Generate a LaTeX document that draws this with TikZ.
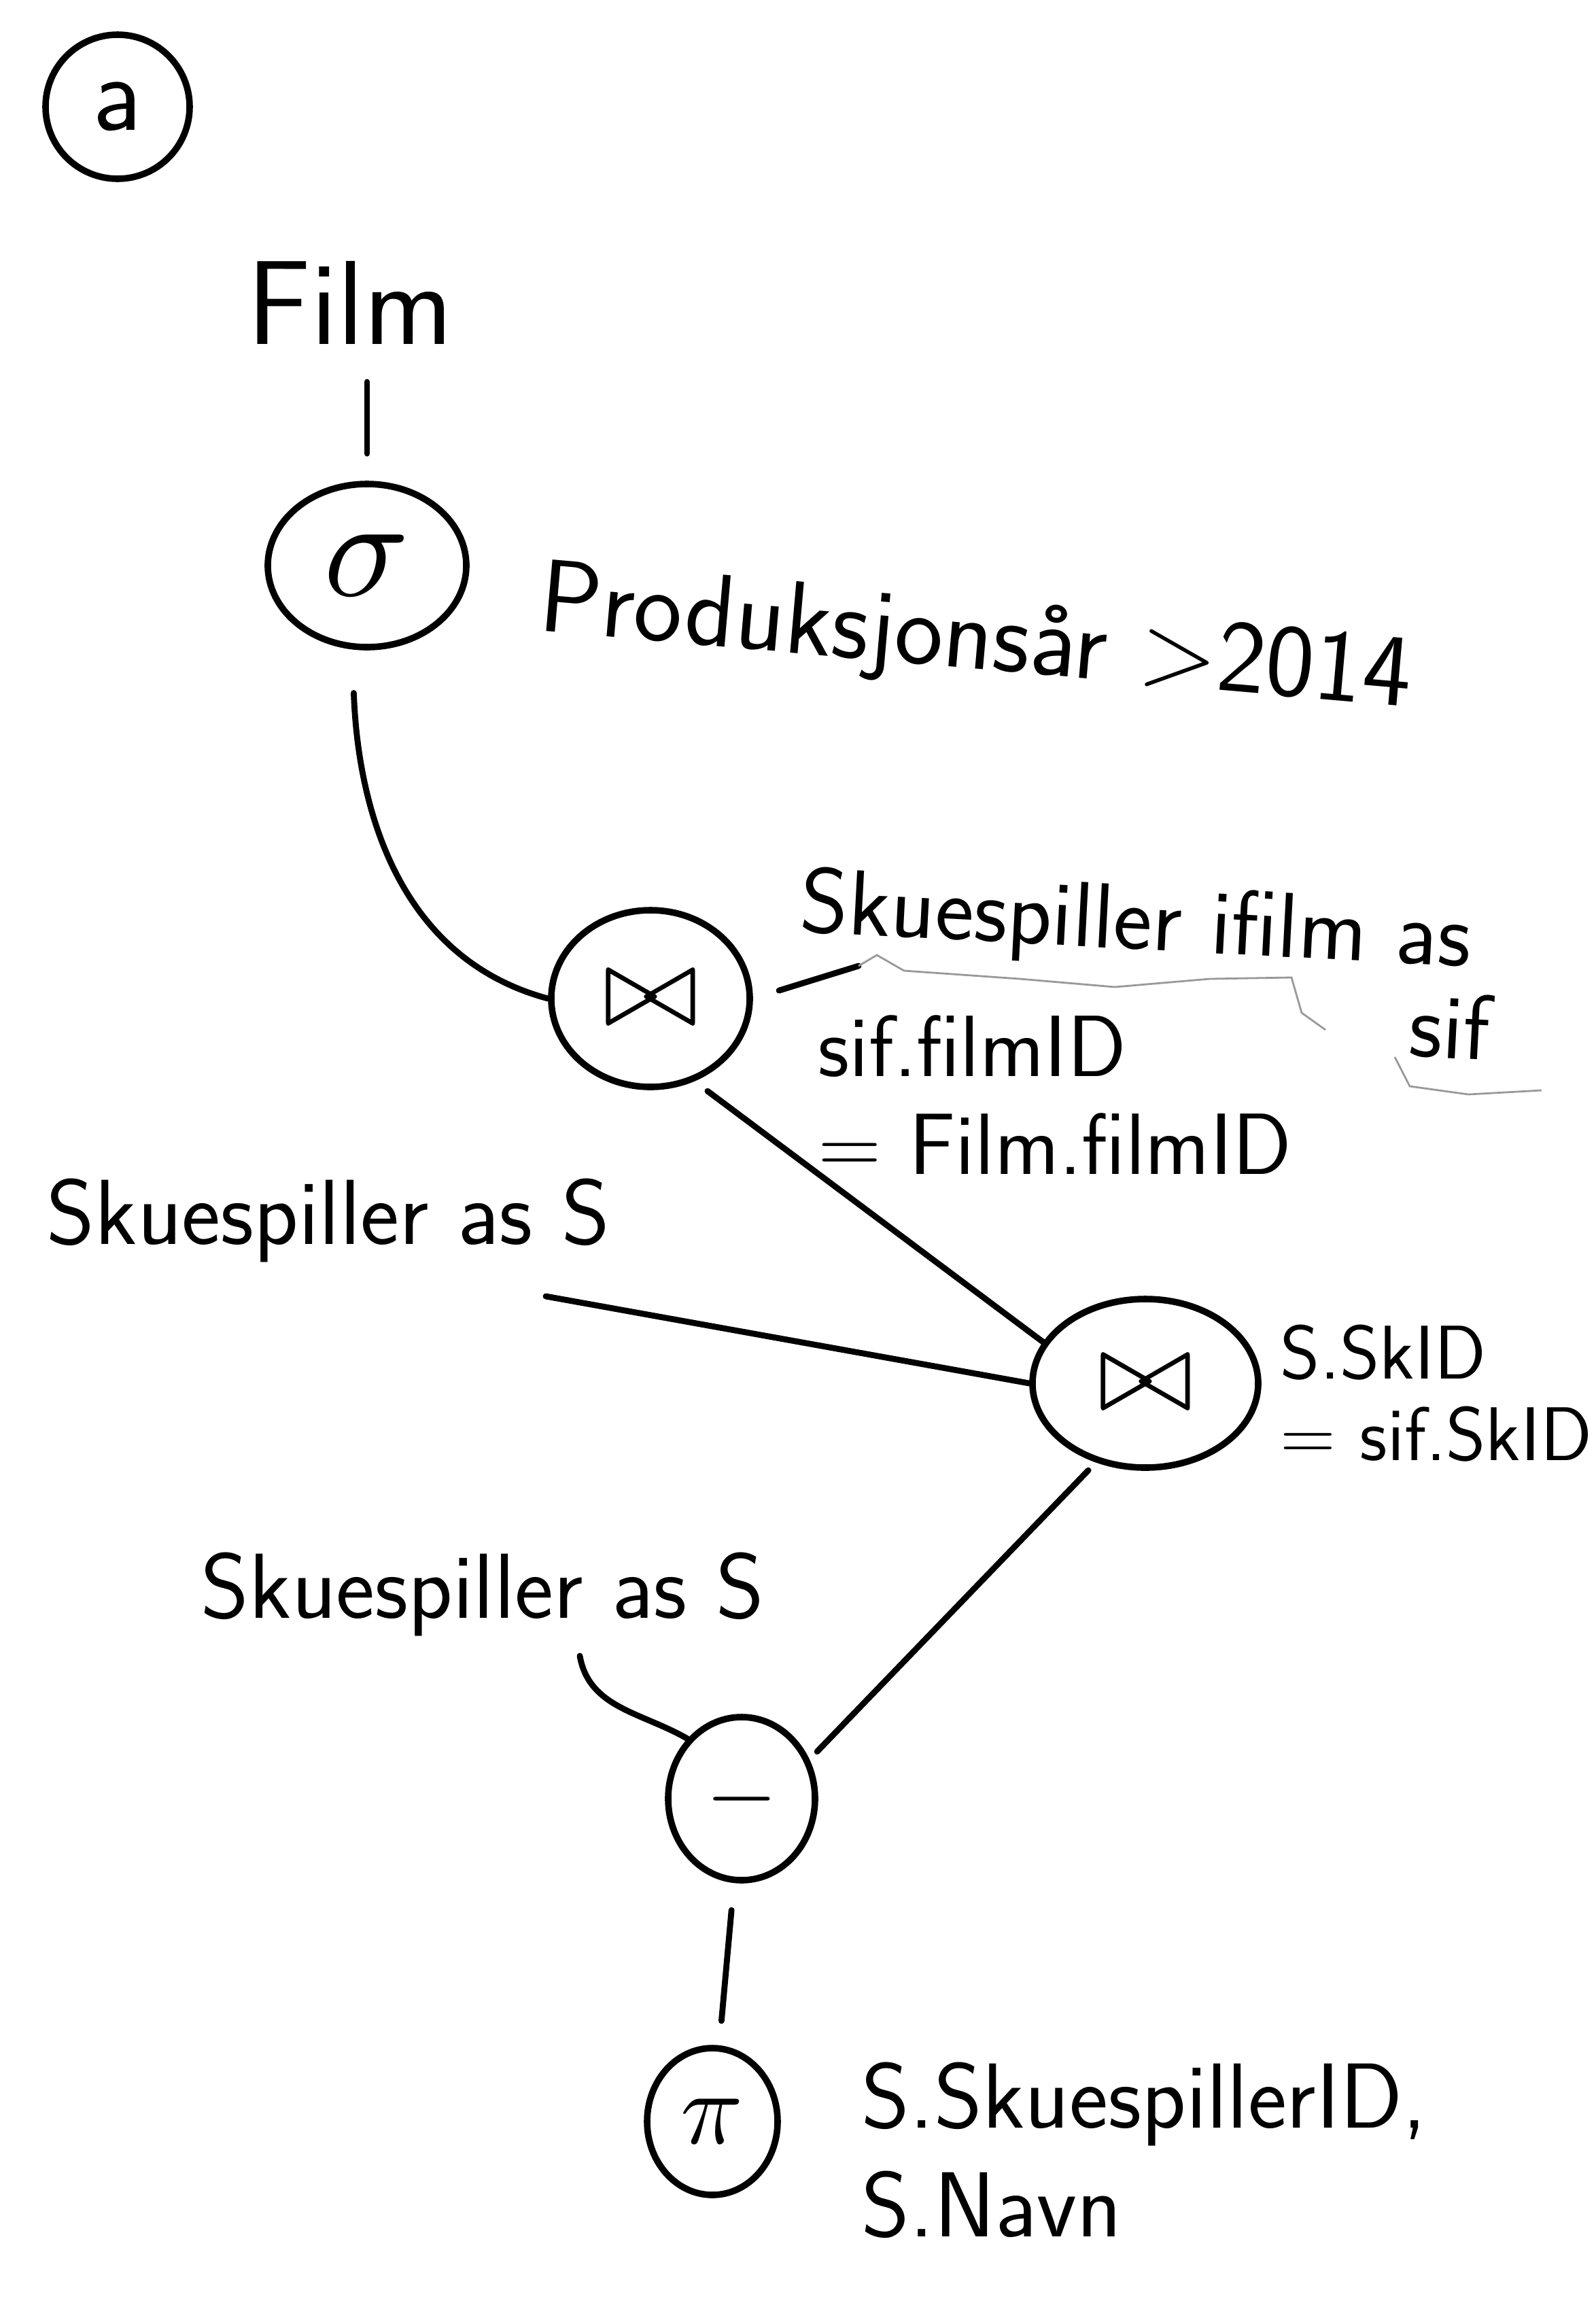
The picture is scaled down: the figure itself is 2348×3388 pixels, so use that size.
\documentclass[tikz,border=0pt]{standalone}
\usepackage{graphicx}
\usepackage{tikz}
\usepackage{xcolor}
\usetikzlibrary{shapes.geometric}

\begin{document}
\begin{tikzpicture}[x=0.25pt,y=0.25pt,yscale=-1,xscale=1,
  op/.style={draw,ellipse,line width=2.4pt,inner sep=0pt},
  lbl/.style={inner sep=0.75pt,font=\sffamily\fontsize{34}{40}\selectfont},
  edge/.style={line width=2.2pt,line cap=round},
  trace/.style={line width=0.7pt,draw=black!40}]
\useasboundingbox (0,0) rectangle (2348,3388);

% Tag
\node [op, circle, minimum size=53pt] (tag) at (173,157) {\sffamily\fontsize{40}{40}\selectfont a};

% Selection on Film
\node [lbl, font=\sffamily\fontsize{44}{44}\selectfont] (film) at (515,445) {Film};
\node [op, minimum width=73pt, minimum height=60pt] (sigma) at (540,832) {\scalebox{5.2}{$\sigma$}};
\node [lbl, anchor=west, rotate=-5, font=\sffamily\fontsize{38}{40}\selectfont] (sel) at (790,890) {Produksjonsår >2014};

% First join
\node [op, minimum width=73pt, minimum height=65pt] (join1) at (957,1469) {\scalebox{4.2}{$\bowtie$}};
\node [lbl, anchor=north west, align=left, rotate=-3, font=\sffamily\fontsize{34}{34}\selectfont] (sif) at (1177,1270) {Skuespiller ifilm as\\\hspace*{226pt}sif};
\node [lbl, anchor=north west, align=left, font=\sffamily\fontsize{32}{36}\selectfont] (on1) at (1200,1490) {sif.filmID\\= Film.filmID};
\coordinate (sifpt) at (1263,1421);

% Second join
\node [lbl, anchor=west] (skS1) at (65,1795) {Skuespiller as S};
\coordinate (s1end) at (803,1907);
\node [op, minimum width=83pt, minimum height=62pt] (join2) at (1685,2035) {\scalebox{4.2}{$\bowtie$}};
\node [lbl, anchor=north west, align=left, font=\sffamily\fontsize{28}{30}\selectfont] (on2) at (1880,1945) {S.SkID\\= sif.SkID};

% Difference
\node [lbl, anchor=west] (skS2) at (292,2345) {Skuespiller as S};
\coordinate (s2end) at (853,2436);
\node [op, minimum width=54pt, minimum height=60pt] (minus) at (1091,2646) {\scalebox{3.4}{$-$}};

% Projection
\node [op, minimum width=48pt, minimum height=54pt] (pi) at (1048,3121) {\scalebox{3.8}{$\pi$}};
\node [lbl, anchor=north west, align=left, font=\sffamily\fontsize{34}{40}\selectfont] (proj) at (1264,3030) {S.SkuespillerID,\\S.Navn};

% Edges
\draw [edge, shorten <=10pt, shorten >=13pt] (sigma.north) -- (sigma.north |- film.south);
\draw [edge, shorten <=16pt] (sigma.-100) to[out=88,in=-165] (join1.west);
\draw [edge, shorten <=10pt] (join1.east) -- (sifpt);
\draw [trace] (sifpt) -- (1290,1405) -- (1330,1428) -- (1500,1440) -- (1640,1452) -- (1780,1440) -- (1900,1438) -- (1915,1490) -- (1950,1515);
\draw [trace] (2052,1555) -- (2074,1598) -- (2160,1610) -- (2268,1604);
\draw [edge, shorten <=6pt] (join1.-62) -- (join2.158);
\draw [edge] (s1end) -- (join2.west);
\draw [edge, shorten <=4pt, shorten >=4pt] (join2.-122) -- (minus.30);
\draw [edge] (s2end) to[out=80,in=-150] (minus.north west);
\draw [edge, shorten <=10pt, shorten >=9pt] (minus) -- (pi);

\end{tikzpicture}
\end{document}
